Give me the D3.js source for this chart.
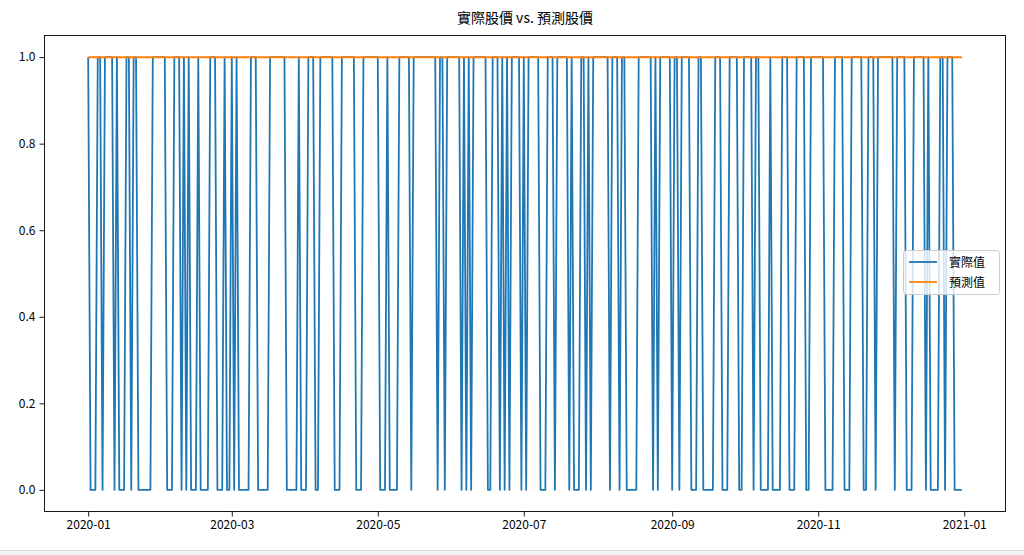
<!DOCTYPE html>
<html><head><meta charset="utf-8">
<script src="https://cdn.jsdelivr.net/npm/d3@7"></script>
<style>
body{margin:0;background:#fff;}
svg{display:block;font-family:"Noto Sans CJK TC","Noto Sans CJK SC","DejaVu Sans",sans-serif;}
</style></head><body>
<svg id="c" width="1024" height="555"></svg>
<script>
const titleText = "實際股價 vs. 預測股價";
const seriesNames = ["實際值", "預測值"];
const startDate = "2020-01-01";
// actual values, one per day from 2020-01-01 to 2020-12-31 (rows by month)
const actual = [
// Jan (31)
1,0,0,0,1,1,0,1,1,1,1,0,1,0,0,0,1,1,0,1,1,0,0,0,0,0,0,1,1,1,1,
// Feb (29)
1,1,0,0,0,1,1,1,0,1,0,1,0,0,0,1,0,0,0,0,1,1,1,0,0,0,1,0,0,
// Mar (31)
1,0,1,0,0,0,0,0,1,1,1,0,0,0,0,0,1,1,1,1,1,1,1,0,0,0,0,0,1,0,0,
// Apr (30)
0,1,1,1,0,0,1,1,1,1,1,1,0,0,0,1,1,1,1,1,1,0,0,0,1,1,1,1,1,1,
// May (31)
1,0,0,0,1,0,0,0,0,1,1,1,1,1,0,1,1,1,1,1,1,1,1,1,1,0,1,1,0,1,1,
// Jun (30)
1,1,1,1,0,1,0,1,0,1,1,1,1,1,1,0,0,1,1,1,0,1,0,1,0,1,1,1,1,0,
// Jul (31)
1,0,1,1,1,1,1,0,0,0,1,1,1,0,1,1,1,1,1,0,1,0,0,0,1,1,0,1,0,1,1,
// Aug (31)
1,1,1,1,1,0,1,1,1,0,1,1,0,0,0,0,0,1,1,1,1,1,1,0,1,0,1,1,1,1,1,
// Sep (30)
0,1,1,0,1,1,1,1,0,0,0,1,1,0,0,0,0,0,1,1,1,0,0,0,1,1,1,1,0,0,
// Oct (31)
1,1,1,1,0,1,1,0,0,0,0,1,0,0,0,0,1,1,1,0,0,0,1,1,1,1,0,0,1,1,1,
// Nov (30)
1,1,1,0,0,0,0,1,1,1,1,0,0,0,1,1,1,1,1,0,0,1,1,1,0,1,1,1,1,1,
// Dec (31)
1,1,0,1,1,1,1,0,0,0,1,1,1,1,1,0,1,0,0,0,0,1,1,0,1,1,1,0,0,0,0
];
const predicted = actual.map(() => 1);
const yTicks = [0.0, 0.2, 0.4, 0.6, 0.8, 1.0];
const xTickDates = ["2020-01-01","2020-03-01","2020-05-01","2020-07-01","2020-09-01","2020-11-01","2021-01-01"];

const parse = d3.utcParse("%Y-%m-%d");
const t0 = parse(startDate);
const dates = actual.map((_, i) => d3.utcDay.offset(t0, i));

const svg = d3.select("#c");
const L = 44.5, R = 1005.5, T = 35.5, B = 511.5;

const dMin = dates[0], dMax = dates[dates.length-1];
const span = dMax - dMin;
const x = d3.scaleUtc()
  .domain([new Date(+dMin - span*0.05), new Date(+dMax + span*0.05)])
  .range([L, R]);
const y = d3.scaleLinear().domain([-0.05, 1.05]).range([B, T]);

const line = d3.line().x((d,i) => x(dates[i])).y(d => y(d));

svg.append("path").datum(actual)
  .attr("fill","none").attr("stroke","#1f77b4").attr("stroke-width",1.8)
  .attr("stroke-linejoin","round").attr("d", line);
svg.append("path").datum(predicted)
  .attr("fill","none").attr("stroke","#ff7f0e").attr("stroke-width",2)
  .attr("d", line);

// axes
const xAxis = d3.axisBottom(x).tickValues(xTickDates.map(parse))
  .tickFormat(d3.utcFormat("%Y-%m")).tickSize(5).tickPadding(4);
const gx = svg.append("g").attr("transform",`translate(0,${B})`).call(xAxis);
const yAxis = d3.axisLeft(y).tickValues(yTicks).tickFormat(d3.format(".1f")).tickSize(5).tickPadding(4);
const gy = svg.append("g").attr("transform",`translate(${L},0)`).call(yAxis);
[gx, gy].forEach(g => {
  g.select(".domain").remove();
  g.selectAll(".tick line").attr("stroke","#000").attr("stroke-width",0.9);
  g.selectAll(".tick text").attr("fill","#000").style("font-size","12px")
   .style("font-family",'"Noto Sans CJK TC","DejaVu Sans",sans-serif');
});

svg.append("rect").attr("x",L).attr("y",T).attr("width",R-L).attr("height",B-T)
  .attr("fill","none").attr("stroke","#000").attr("stroke-width",0.9);

svg.append("text").attr("x",(L+R)/2).attr("y",23).attr("text-anchor","middle")
  .style("font-size","14px").attr("fill","#000").text(titleText);

// legend
const lg = svg.append("g").attr("transform","translate(903,250)");
lg.append("rect").attr("x",0.5).attr("y",0.5).attr("width",96).attr("height",44)
  .attr("rx",3).attr("fill","#fff").attr("fill-opacity",0.8).attr("stroke","#ccc");
const colors = ["#1f77b4","#ff7f0e"];
seriesNames.forEach((n,i) => {
  const yy = 12 + i*20;
  lg.append("line").attr("x1",6).attr("x2",34).attr("y1",yy).attr("y2",yy)
    .attr("stroke",colors[i]).attr("stroke-width",1.8);
  lg.append("text").attr("x",46).attr("y",yy+4.5).style("font-size","12px").attr("fill","#000").text(n);
});

// bottom page edge
svg.append("rect").attr("x",0).attr("y",550).attr("width",1024).attr("height",5).attr("fill","#f2f2f2");
svg.append("line").attr("x1",0).attr("x2",1024).attr("y1",550.5).attr("y2",550.5).attr("stroke","#d6d6d6");
</script>
</body></html>
